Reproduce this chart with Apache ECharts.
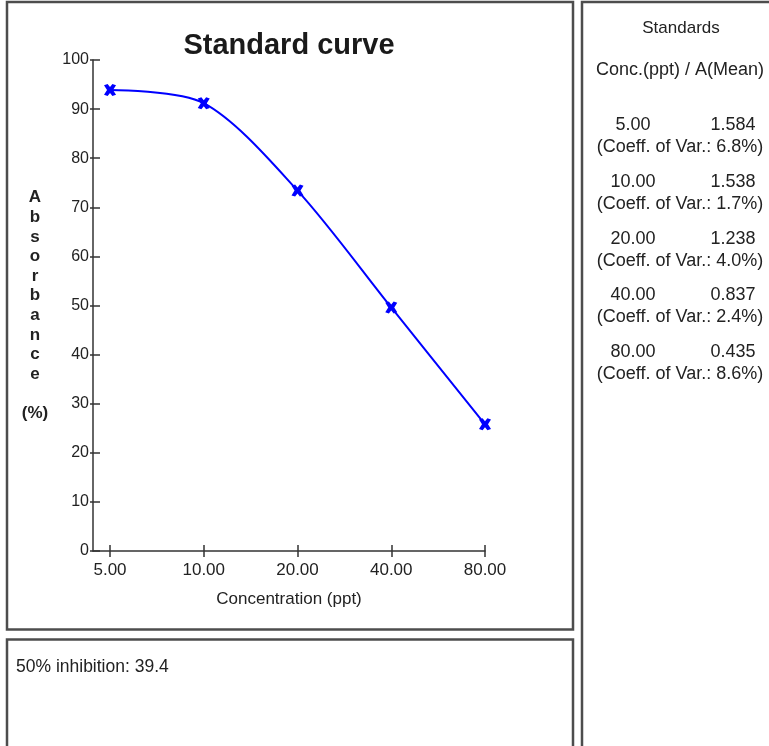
<!DOCTYPE html>
<html>
<head>
<meta charset="utf-8">
<title>Standard curve</title>
<script src="https://cdn.jsdelivr.net/npm/echarts@6/dist/echarts.min.js"></script>
<style>
body { margin: 0; background: #ffffff; }
#curveChart { width: 769px; height: 746px; }
</style>
</head>
<body>
<div id="curveChart"></div>
<script>
var concValues = [ 5, 10, 20, 40, 80 ];
var concLabels = [ '5.00', '10.00', '20.00', '40.00', '80.00' ];
var absPercent = [ 93.9, 91.2, 73.4, 49.6, 25.8 ];
var meanAbs = [ '1.584', '1.538', '1.238', '0.837', '0.435' ];
var coeffVar = [ '6.8%', '1.7%', '4.0%', '2.4%', '8.6%' ];
var inhibition50 = '39.4';

var fontName = 'Liberation Sans, Arial, sans-serif';
var textColor = '#222222';
var boxColor = '#4d4d4d';

function showCurve() {
	var myChart = echarts.init(document.getElementById('curveChart'));

	var points = [];
	for (var i = 0; i < concValues.length; i++) {
		points.push([ concValues[i], absPercent[i] ]);
	}

	var panel = [ {
		type : 'rect',
		shape : { x : 7, y : 2, width : 566, height : 627.5 },
		style : { fill : 'none', stroke : boxColor, lineWidth : 2.5 }
	}, {
		type : 'rect',
		shape : { x : 7, y : 639.5, width : 566, height : 130 },
		style : { fill : 'none', stroke : boxColor, lineWidth : 2.5 }
	}, {
		type : 'rect',
		shape : { x : 582, y : 2, width : 260, height : 800 },
		style : { fill : 'none', stroke : boxColor, lineWidth : 2.5 }
	}, {
		type : 'text',
		x : 681, y : 28,
		style : { text : 'Standards', fill : textColor, font : '17px ' + fontName, textAlign : 'center', textVerticalAlign : 'middle' }
	}, {
		type : 'text',
		x : 680, y : 70,
		style : { text : 'Conc.(ppt) / A(Mean)', fill : textColor, font : '18px ' + fontName, textAlign : 'center', textVerticalAlign : 'middle' }
	}, {
		type : 'text',
		x : 16, y : 667,
		style : { text : '50% inhibition: ' + inhibition50, fill : textColor, font : '17.5px ' + fontName, textAlign : 'left', textVerticalAlign : 'middle' }
	} ];

	for (var j = 0; j < concLabels.length; j++) {
		var rowY = 125 + j * 56.8;
		panel.push({
			type : 'text',
			x : 633, y : rowY,
			style : { text : concLabels[j], fill : textColor, font : '18px ' + fontName, textAlign : 'center', textVerticalAlign : 'middle' }
		});
		panel.push({
			type : 'text',
			x : 733, y : rowY,
			style : { text : meanAbs[j], fill : textColor, font : '18px ' + fontName, textAlign : 'center', textVerticalAlign : 'middle' }
		});
		panel.push({
			type : 'text',
			x : 680, y : rowY + 22,
			style : { text : '(Coeff. of Var.: ' + coeffVar[j] + ')', fill : textColor, font : '18px ' + fontName, textAlign : 'center', textVerticalAlign : 'middle' }
		});
	}

	var xBase = {
		type : 'log',
		logBase : 2,
		min : 4.409,
		max : 80,
		position : 'bottom',
		splitLine : { show : false },
		minorTick : { show : false }
	};

	option = {
		backgroundColor : '#ffffff',
		animation : false,
		title : {
			text : 'Standard curve',
			left : 289,
			top : 31,
			padding : 0,
			textAlign : 'center',
			textStyle : {
				fontFamily : fontName,
				fontSize : 29,
				fontWeight : 'bold',
				color : '#1a1a1a'
			}
		},
		grid : {
			left : 93,
			right : 284,
			top : 60,
			bottom : 195
		},
		xAxis : [ echarts.util.merge({
			name : 'Concentration (ppt)',
			nameLocation : 'middle',
			nameGap : 40,
			nameTextStyle : { fontFamily : fontName, fontSize : 17, color : textColor },
			axisLine : { lineStyle : { color : '#333333', width : 1.5 } },
			axisTick : { customValues : concValues, length : 6, lineStyle : { color : '#333333', width : 1.5 } },
			axisLabel : {
				customValues : concValues,
				margin : 11,
				fontFamily : fontName,
				fontSize : 17,
				color : textColor,
				formatter : function(v) {
					return v.toFixed(2);
				}
			}
		}, xBase, true), echarts.util.merge({
			axisLine : { show : false },
			axisTick : { customValues : concValues, inside : true, length : 6, lineStyle : { color : '#333333', width : 1.5 } },
			axisLabel : { show : false }
		}, xBase, true) ],
		yAxis : [ {
			type : 'value',
			min : 0,
			max : 100,
			interval : 10,
			name : 'A\nb\ns\no\nr\nb\na\nn\nc\ne\n\n(%)',
			nameLocation : 'middle',
			nameRotate : 0,
			nameGap : 58,
			nameTextStyle : {
				fontFamily : fontName,
				fontSize : 17,
				fontWeight : 'bold',
				color : textColor,
				align : 'center',
				verticalAlign : 'middle',
				lineHeight : 19.6
			},
			splitLine : { show : false },
			axisLine : { show : true, lineStyle : { color : '#333333', width : 1.5 } },
			axisTick : { show : true, length : 3, lineStyle : { color : '#333333', width : 1.5 } },
			axisLabel : { margin : 4, fontFamily : fontName, fontSize : 16, color : textColor }
		}, {
			type : 'value',
			min : 0,
			max : 100,
			interval : 10,
			position : 'left',
			splitLine : { show : false },
			axisLine : { show : false },
			axisTick : { show : true, inside : true, length : 7, lineStyle : { color : '#333333', width : 1.5 } },
			axisLabel : { show : false }
		} ],
		series : [ {
			name : 'Standards',
			type : 'line',
			xAxisIndex : 0,
			yAxisIndex : 0,
			data : points,
			smooth : 0.3,
			symbol : 'path://M0,1 L3,0 L5,2.5 L7,0 L10,1 L7.5,5 L10,9 L7,10 L5,7.5 L3,10 L0,9 L2.5,5 Z',
			symbolSize : 12,
			lineStyle : { color : '#0000ff', width : 2 },
			itemStyle : { color : '#0000ff' }
		} ],
		graphic : panel
	};

	myChart.setOption(option);
}
showCurve();
</script>
</body>
</html>
